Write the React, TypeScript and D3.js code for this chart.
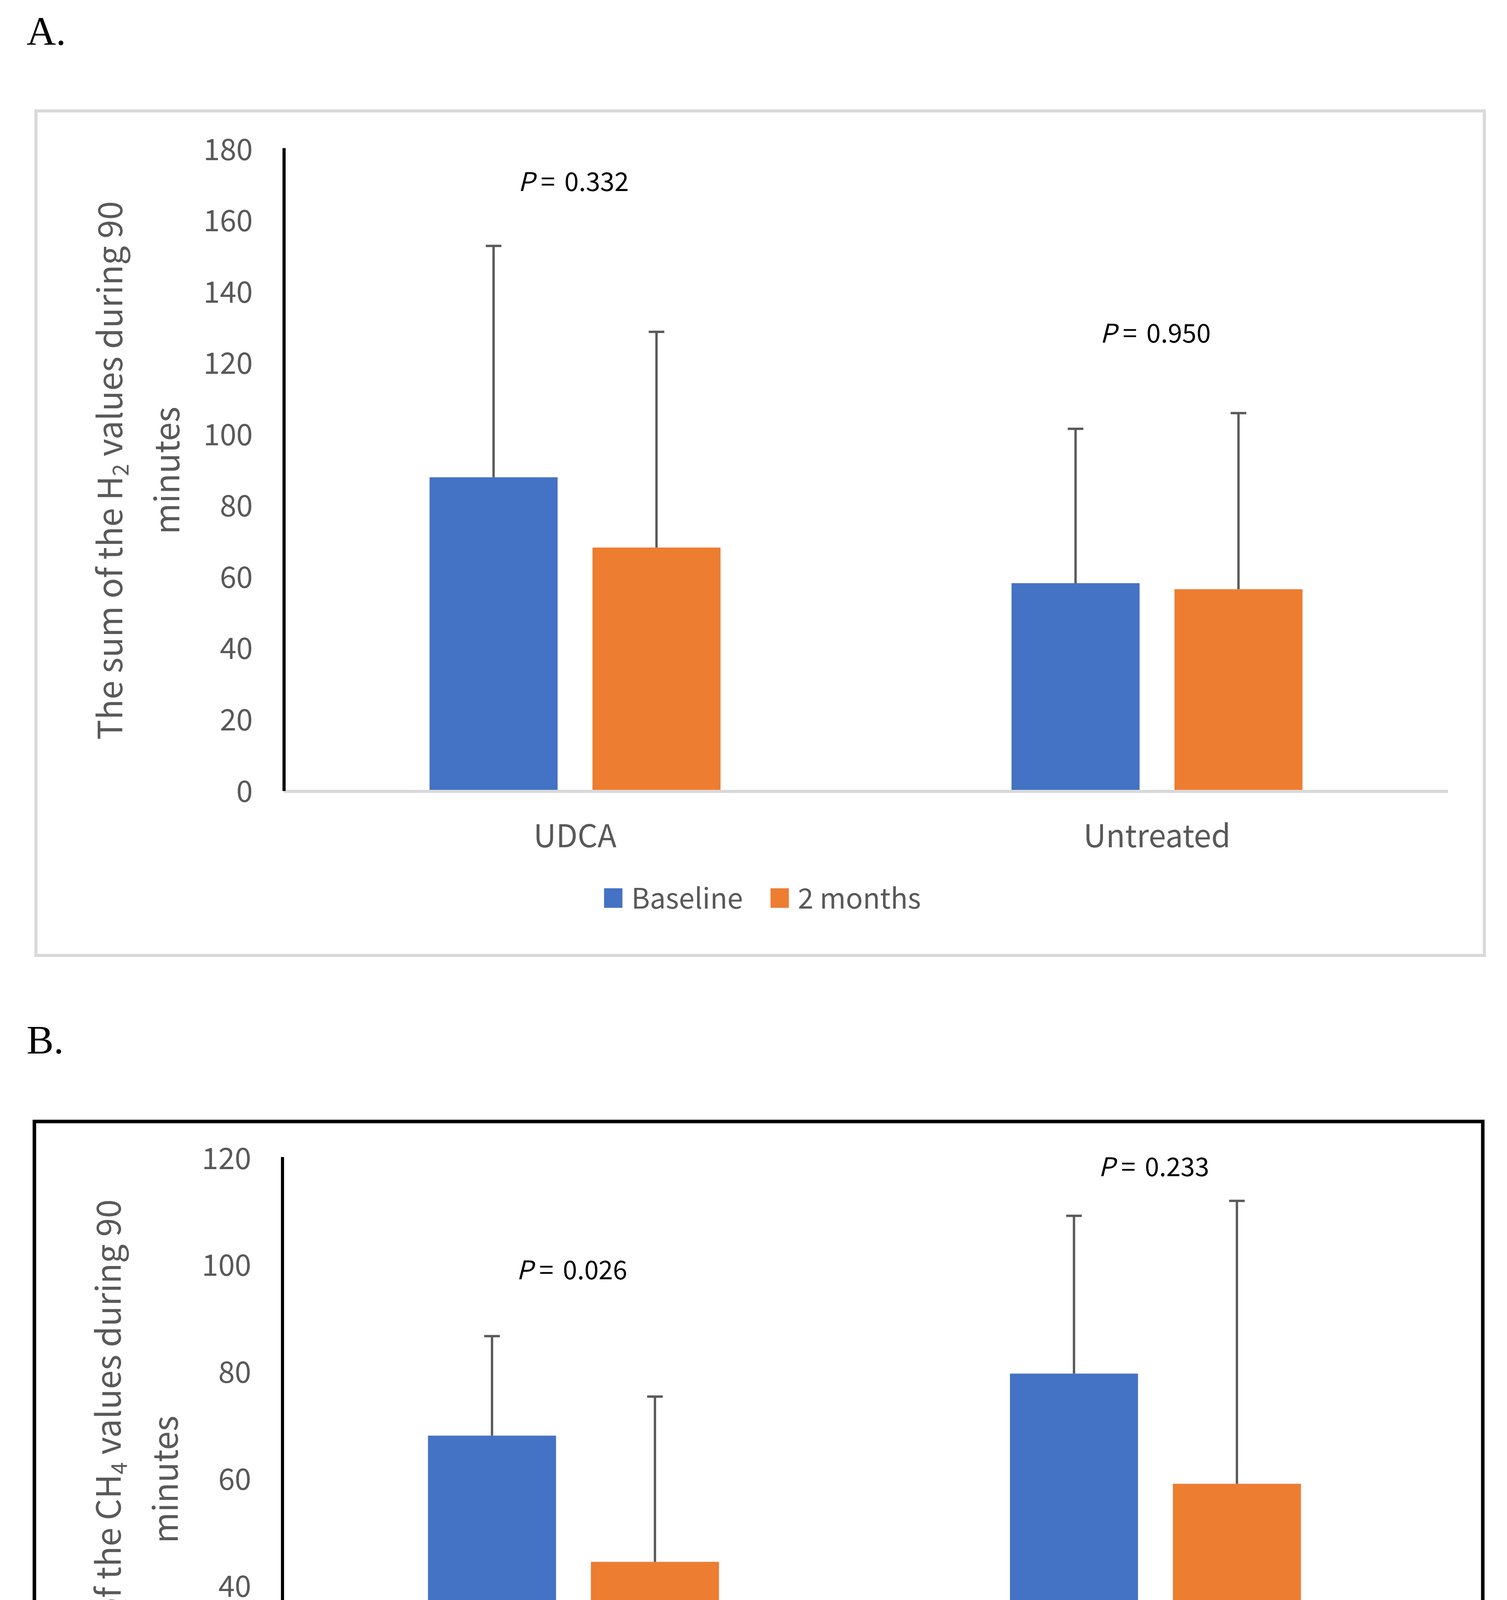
import * as d3 from "d3";
import React from "react";

// shared categories / series
const categories = ["UDCA", "Untreated"];
const seriesNames = ["Baseline", "2 months"];
const seriesColors = ["#4472C4", "#ED7D31"];

// panel A: H2
const h2Baseline = [88.1, 58.4];
const h2BaselineSD = [64.9, 43.3];
const h2TwoMonths = [68.4, 56.7];
const h2TwoMonthsSD = [60.5, 49.4];
const h2Ticks = [0, 20, 40, 60, 80, 100, 120, 140, 160, 180];
const h2PValues = ["0.332", "0.950"];
const h2PLabelAt = [168.4, 125.9];

// panel B: CH4
const ch4Baseline = [68.2, 79.8];
const ch4BaselineSD = [18.6, 29.5];
const ch4TwoMonths = [44.6, 59.2];
const ch4TwoMonthsSD = [30.9, 52.9];
const ch4Ticks = [0, 20, 40, 60, 80, 100, 120];
const ch4PValues = ["0.026", "0.233"];
const ch4PLabelAt = [97.4, 116.7];

const FONT = "'Noto Sans CJK KR', 'Noto Sans', sans-serif";
const GREY = "#595959";

type PanelProps = {
  letter: string;
  letterY: number;
  box: { x: number; y: number; w: number; h: number };
  boxStroke: string;
  plot: { left: number; right: number; top: number; bottom: number };
  gas: string;
  sub: string;
  ticks: number[];
  means: number[][];
  sds: number[][];
  pValues: string[];
  pAt: number[];
};

const Panel: React.FC<PanelProps> = ({
  letter,
  letterY,
  box,
  boxStroke,
  plot,
  gas,
  sub,
  ticks,
  means,
  sds,
  pValues,
  pAt,
}) => {
  const y = d3
    .scaleLinear()
    .domain([0, d3.max(ticks) as number])
    .range([plot.bottom, plot.top]);

  const x0 = d3
    .scaleBand<string>()
    .domain(categories)
    .range([plot.left, plot.right])
    .paddingInner(0.5)
    .paddingOuter(0.25);

  const x1 = d3
    .scaleBand<string>()
    .domain(seriesNames)
    .range([0, x0.bandwidth()])
    .paddingInner(0.214);

  const midY = (plot.top + plot.bottom) / 2;
  const legendY = plot.bottom + 300;

  return (
    <g>
      <text
        x={68}
        y={letterY}
        fontFamily="'Liberation Serif', 'DejaVu Serif', serif"
        fontSize={104}
        fill="#000"
      >
        {letter}
      </text>
      <rect
        x={box.x}
        y={box.y}
        width={box.w}
        height={box.h}
        fill="#fff"
        stroke={boxStroke}
        strokeWidth={boxStroke === "#000" ? 9 : 8}
      />

      {/* y tick labels */}
      {ticks.map((t) => (
        <text
          key={t}
          x={plot.left - 80}
          y={y(t)}
          dy="0.35em"
          textAnchor="end"
          fontFamily={FONT}
          fontSize={76}
          fill={GREY}
        >
          {t}
        </text>
      ))}

      {/* y axis title */}
      <text
        transform={`translate(${plot.left - 414},${midY}) rotate(-90)`}
        textAnchor="middle"
        fontFamily={FONT}
        fontSize={86}
        fill={GREY}
      >
        {"The sum of the " + gas}
        <tspan fontSize={56} dy={16}>
          {sub}
        </tspan>
        <tspan dy={-16}>{"\u00A0values during 90"}</tspan>
      </text>
      <text
        transform={`translate(${plot.left - 268},${midY}) rotate(-90)`}
        textAnchor="middle"
        fontFamily={FONT}
        fontSize={86}
        fill={GREY}
      >
        minutes
      </text>

      {/* bars + error bars */}
      {categories.map((c, ci) => (
        <g key={c} transform={`translate(${x0(c)},0)`}>
          {seriesNames.map((s, si) => {
            const m = means[si][ci];
            const top = y(m + sds[si][ci]);
            const cx = (x1(s) as number) + x1.bandwidth() / 2;
            return (
              <g key={s}>
                <rect
                  x={x1(s)}
                  y={y(m)}
                  width={x1.bandwidth()}
                  height={y(0) - y(m)}
                  fill={seriesColors[si]}
                />
                <line
                  x1={cx}
                  x2={cx}
                  y1={y(m)}
                  y2={top}
                  stroke={GREY}
                  strokeWidth={6}
                />
                <line
                  x1={cx - 20}
                  x2={cx + 20}
                  y1={top}
                  y2={top}
                  stroke={GREY}
                  strokeWidth={6}
                />
              </g>
            );
          })}
        </g>
      ))}

      {/* axes */}
      <line
        x1={plot.left}
        x2={plot.right}
        y1={y(0)}
        y2={y(0)}
        stroke="#d9d9d9"
        strokeWidth={8}
      />
      <line
        x1={plot.left}
        x2={plot.left}
        y1={plot.top - 4}
        y2={y(0) - 1}
        stroke="#000"
        strokeWidth={8}
      />

      {/* category labels */}
      {categories.map((c) => (
        <text
          key={c}
          x={(x0(c) as number) + x0.bandwidth() / 2}
          y={plot.bottom + 143}
          textAnchor="middle"
          fontFamily={FONT}
          fontSize={80}
          fill={GREY}
        >
          {c}
        </text>
      ))}

      {/* P values */}
      {categories.map((c, ci) => (
        <text
          key={c}
          x={(x0(c) as number) + x0.bandwidth() / 2 - 4}
          y={y(pAt[ci])}
          textAnchor="middle"
          fontFamily={FONT}
          fontSize={66}
          fill="#000"
        >
          <tspan fontStyle="italic">P</tspan>
          <tspan dx={16}>=</tspan>
          <tspan dx={24}>{pValues[ci]}</tspan>
        </text>
      ))}

      {/* legend */}
      {seriesNames.map((s, si) => {
        const lx = si === 0 ? 1546 : 1972;
        return (
          <g key={s}>
            <rect
              x={lx}
              y={legendY - 52}
              width={47}
              height={50}
              fill={seriesColors[si]}
            />
            <text
              x={lx + 70}
              y={legendY}
              fontFamily={FONT}
              fontSize={72}
              fill={GREY}
            >
              {s}
            </text>
          </g>
        );
      })}
    </g>
  );
};

const App: React.FC = () => {
  return (
    <div style={{ margin: -8, width: 3857, height: 5085, overflow: "hidden" }}>
      <svg width={3857} height={5085} style={{ display: "block" }}>
        <rect width={3857} height={5085} fill="#fff" />
        <Panel
          letter="A."
          letterY={115}
          box={{ x: 92, y: 284, w: 3707, h: 2162 }}
          boxStroke="#d9d9d9"
          plot={{ left: 727, right: 3706, top: 383, bottom: 2026 }}
          gas="H"
          sub="2"
          ticks={h2Ticks}
          means={[h2Baseline, h2TwoMonths]}
          sds={[h2BaselineSD, h2TwoMonthsSD]}
          pValues={h2PValues}
          pAt={h2PLabelAt}
        />
        <Panel
          letter="B."
          letterY={2697}
          box={{ x: 88, y: 2871, w: 3707, h: 2160 }}
          boxStroke="#000"
          plot={{ left: 723, right: 3702, top: 2966, bottom: 4609 }}
          gas="CH"
          sub="4"
          ticks={ch4Ticks}
          means={[ch4Baseline, ch4TwoMonths]}
          sds={[ch4BaselineSD, ch4TwoMonthsSD]}
          pValues={ch4PValues}
          pAt={ch4PLabelAt}
        />
      </svg>
    </div>
  );
};

export default App;
